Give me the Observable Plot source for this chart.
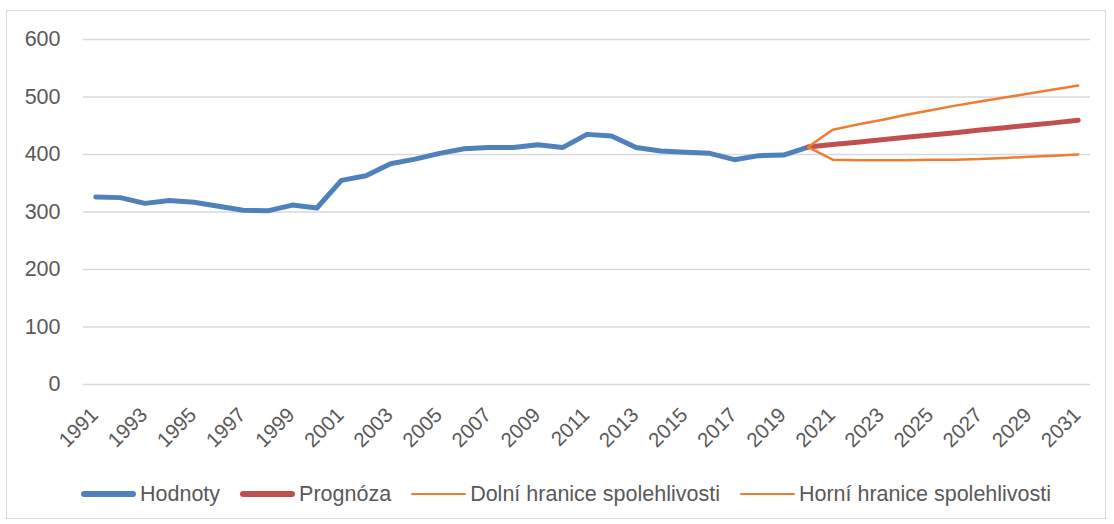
<!DOCTYPE html>
<html>
<head>
<meta charset="utf-8">
<script src="https://cdn.jsdelivr.net/npm/d3@7"></script>
<script src="https://cdn.jsdelivr.net/npm/@observablehq/plot@0.6"></script>
<style>
  html, body { margin: 0; padding: 0; background: #fff; }
  #wrap { position: relative; width: 1114px; height: 524px; font-family: "Liberation Sans", Arial, sans-serif; }
  #frame { position: absolute; left: 6px; top: 10px; width: 1100px; height: 509px; border: 1px solid #d9d9d9; box-sizing: border-box; }
  #chart { position: absolute; left: 0; top: 0; }
  #legend { position: absolute; left: 81px; top: 481px; height: 26px; display: flex; align-items: center; gap: 20px; font-size: 21.5px; color: #595959; white-space: nowrap; }
  .leg { display: flex; align-items: center; }
  .sw { display: inline-block; width: 55px; border-radius: 3px; margin-right: 4px; }
</style>
</head>
<body>
<div id="wrap">
  <div id="frame"></div>
  <div id="chart"></div>
  <div id="legend"></div>
</div>
<script>
// Historical values
const years = [1991,1992,1993,1994,1995,1996,1997,1998,1999,2000,2001,2002,2003,2004,2005,2006,2007,2008,2009,2010,2011,2012,2013,2014,2015,2016,2017,2018,2019,2020];
const hodnoty = [326,325,315,320,317,310,303,302,312,307,355,363,384,392,402,410,412,412,417,412,435,432,412,406,404,402,391,398,399,413];

// Forecast
const forecastYears = [2020,2021,2022,2023,2024,2025,2026,2027,2028,2029,2030,2031];
const prognoza = [413,417.5,421.5,425.5,430,434,438,442.5,446.5,451,455,459.5];
const dolni = [413,391,390,390,390,391,391,392,394,396,398,400];
const horni = [413,443,452,460,469,477,485,492,499,506,513,520];

// Axis ticks
const xTicks = [1991,1993,1995,1997,1999,2001,2003,2005,2007,2009,2011,2013,2015,2017,2019,2021,2023,2025,2027,2029,2031];
const yTicks = [0,100,200,300,400,500,600];

// Legend
const seriesNames = ["Hodnoty","Prognóza","Dolní hranice spolehlivosti","Horní hranice spolehlivosti"];
const seriesColors = ["#4f81bd","#c0504d","#ed7d31","#ed7d31"];

const hist = years.map((y, i) => ({year: y, value: hodnoty[i]}));
const prog = forecastYears.map((y, i) => ({year: y, value: prognoza[i]}));
const low = forecastYears.map((y, i) => ({year: y, value: dolni[i]}));
const high = forecastYears.map((y, i) => ({year: y, value: horni[i]}));

const chart = Plot.plot({
  width: 1114,
  height: 460,
  marginLeft: 83,
  marginRight: 24,
  marginTop: 39,
  marginBottom: 76,
  x: {domain: [1990.5, 2031.5]},
  y: {domain: [0, 600]},
  style: {fontFamily: "'Liberation Sans', Arial, sans-serif", fontSize: "21px", color: "#595959", background: "transparent", overflow: "visible"},
  marks: [
    Plot.gridY(yTicks, {stroke: "#d9d9d9", strokeOpacity: 1, strokeWidth: 1.5}),
    Plot.axisY(yTicks, {tickSize: 0, tickPadding: 23, label: null, tickFormat: d => String(d), fontSize: 21.5}),
    Plot.axisX(xTicks, {tickSize: 0, tickPadding: 27, dx: -1, tickRotate: -45, label: null, tickFormat: d => String(d), fontSize: 20.5}),
    Plot.line(hist, {x: "year", y: "value", stroke: seriesColors[0], strokeWidth: 5, strokeLinejoin: "round", strokeLinecap: "round"}),
    Plot.line(prog, {x: "year", y: "value", stroke: seriesColors[1], strokeWidth: 5, strokeLinejoin: "round", strokeLinecap: "round"}),
    Plot.line(low, {x: "year", y: "value", stroke: seriesColors[2], strokeWidth: 2.5, strokeLinejoin: "round", strokeLinecap: "round"}),
    Plot.line(high, {x: "year", y: "value", stroke: seriesColors[3], strokeWidth: 2.5, strokeLinejoin: "round", strokeLinecap: "round"})
  ]
});
document.getElementById("chart").appendChild(chart);

const legWidths = [5.5, 5.5, 2.5, 2.5];
const legend = document.getElementById("legend");
seriesNames.forEach((name, i) => {
  const item = document.createElement("div");
  item.className = "leg";
  const sw = document.createElement("span");
  sw.className = "sw";
  sw.style.height = legWidths[i] + "px";
  sw.style.background = seriesColors[i];
  const t = document.createElement("span");
  t.textContent = name;
  item.appendChild(sw);
  item.appendChild(t);
  legend.appendChild(item);
});
</script>
</body>
</html>
